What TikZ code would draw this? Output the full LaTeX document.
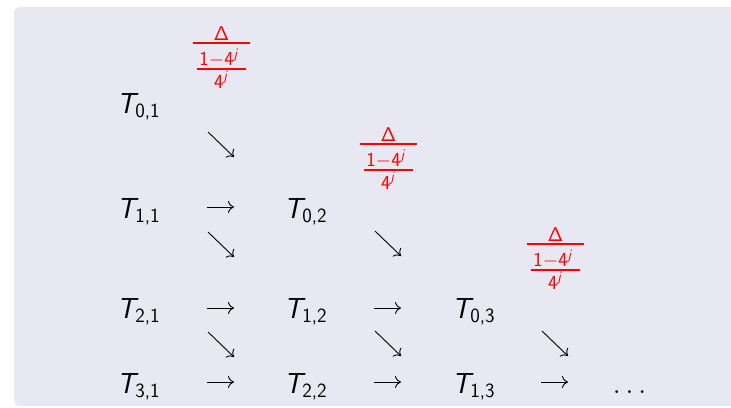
\RequirePackage{fix-cm}
\documentclass[tikz,border=0pt]{standalone}
\usepackage{amsmath}
\usetikzlibrary{arrows.meta}
\DeclareMathAlphabet{\mathsfsl}{OT1}{cmss}{m}{sl}
\definecolor{blockbg}{RGB}{232,232,242}
\newcommand{\TT}[2]{\mathsfsl{T}_{\textsf{#1,#2}}}
\newcommand{\InnerFrac}{\genfrac{}{}{1.5bp}{1}{\textstyle\vphantom{\rule{1bp}{20bp}}\mkern2mu\mathsf{1}\mathord{-}\mathsf{4}^{\mathsfsl{j}}\mkern6mu}{\textstyle\mathsf{4}^{\mathsfsl{j}}}}
\newcommand{\Frac}{\genfrac{}{}{1.5bp}{1}{\textstyle\mathsf{\Delta}}{\textstyle\mkern3mu\InnerFrac\mkern3mu}}
\tikzset{
  tnode/.style={inner sep=0pt, anchor=base, font=\fontsize{29}{35}\selectfont},
  fr/.style={inner sep=0pt, anchor=base, text=red, font=\fontsize{20}{24}\selectfont},
  arr/.style={line width=0.9bp, -{Computer Modern Rightarrow[length=6bp,width=12bp]}}
}
\begin{document}
\begin{tikzpicture}[x=1bp,y=-1bp]
\useasboundingbox (0,0) rectangle (731,407);
\clip (0,0) rectangle (731,407);
\fill[blockbg, rounded corners=6bp] (14,7) rectangle (745,406);
% fractions
\node[fr] (f1) at (221.5,48) {$\color{red}\Frac$};
\node[fr] (f2) at (388.5,149) {$\color{red}\Frac$};
\node[fr] (f3) at (555.5,249) {$\color{red}\Frac$};
% T nodes
\node[tnode] (t01) at (138.5,113) {$\TT01$};
\node[tnode] (t11) at (138.5,218) {$\TT11$};
\node[tnode] (t02) at (305.5,218) {$\TT02$};
\node[tnode] (t21) at (138.5,318) {$\TT21$};
\node[tnode] (t12) at (305.5,318) {$\TT12$};
\node[tnode] (t03) at (473.5,318) {$\TT03$};
\node[tnode] (t31) at (138.5,393) {$\TT31$};
\node[tnode] (t22) at (305.5,393) {$\TT22$};
\node[tnode] (t13) at (473.5,393) {$\TT13$};
\node[tnode] (dots) at (632,393) {$\dots$};
% right arrows
\foreach \n/\x/\y in {a/207/207, b/207/308, c/374/308, d/207/382, e/374/382, f/541/382}{
  \coordinate (h\n1) at (\x,\y);
  \coordinate (h\n2) at (\x+27,\y);
  \draw[arr] (h\n1) -- (h\n2);
}
% south-east arrows
\foreach \n/\x/\y in {a/208/132, b/208/232, c/375/231, d/208/332, e/375/331, f/542/331}{
  \coordinate (s\n1) at (\x,\y);
  \coordinate (s\n2) at (\x+26,\y+25);
  \draw[arr] (s\n1) -- (s\n2);
}
\end{tikzpicture}
\end{document}
